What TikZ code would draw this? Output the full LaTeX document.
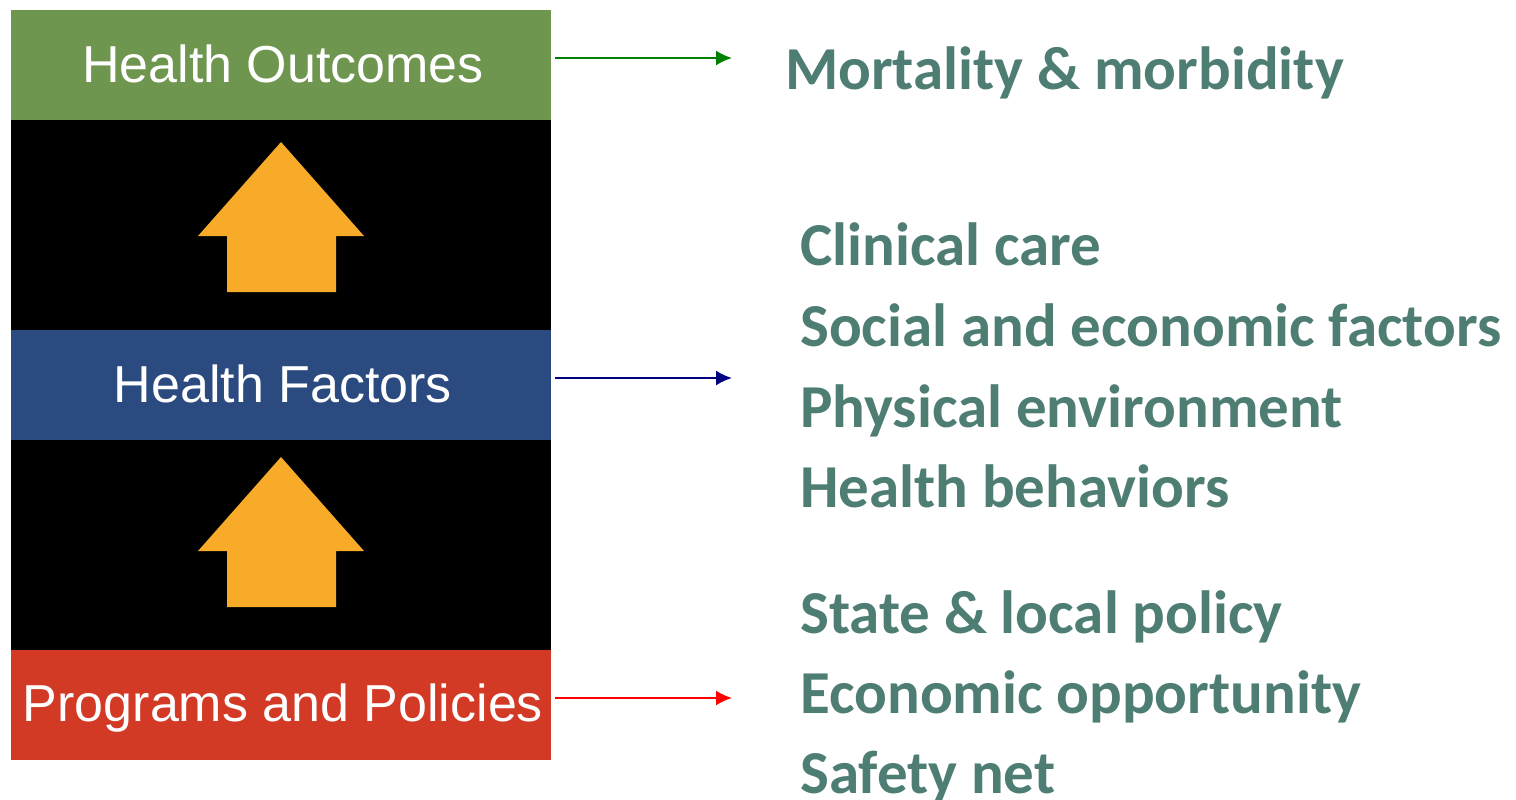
\documentclass[tikz,border=0pt]{standalone}
\usepackage{fontspec}
\setmainfont{Carlito}
\newfontfamily\boxfont{Liberation Sans}
\usetikzlibrary{arrows.meta}

\definecolor{outgreen}{HTML}{6F964F}
\definecolor{facblue}{HTML}{2B4A7F}
\definecolor{polred}{HTML}{D33A25}
\definecolor{uporange}{HTML}{F8AB29}
\definecolor{listteal}{HTML}{4E7D74}

\tikzset{
  band/.style={minimum width=540pt, minimum height=110pt, inner sep=0pt, outer sep=0pt},
  bandtext/.style={text=white, font=\boxfont\fontsize{52}{60}\selectfont, anchor=base},
  item/.style={text=listteal, font=\bfseries\fontsize{61}{70}\selectfont, anchor=base west, inner sep=0pt},
  link/.style={line width=2pt, shorten <=4pt, -{Latex[length=16pt,width=15pt]}}
}

\begin{document}
\begin{tikzpicture}[x=1pt, y=-1pt]
\useasboundingbox (0,0) rectangle (1516,800);

\fill[black] (11,120) rectangle (551,650);
\node [band, fill=outgreen] (outcomes) at (281,65) {};
\node [band, fill=facblue] (factors) at (281,385) {};
\node [band, fill=polred] (policies) at (281,705) {};

\foreach \dy in {0,315}
  \fill[uporange] (281,142+\dy) -- (364,236+\dy) -- (336,236+\dy) -- (336,292+\dy)
    -- (227,292+\dy) -- (227,236+\dy) -- (198,236+\dy) -- cycle;

\node [bandtext] (outlabel) at (283,82) {Health Outcomes};
\node [bandtext] (faclabel) at (283,402) {Health Factors};
\node [bandtext] (pollabel) at (283,721) {Programs and Policies};

\coordinate (outend) at (732,58);
\coordinate (facend) at (732,378);
\coordinate (polend) at (732,698);

\draw [link, color=green!50!black] (outcomes.east |- outend) -- (outend);
\draw [link, color=blue!50!black] (factors.east |- facend) -- (facend);
\draw [link, color=red] (policies.east |- polend) -- (polend);

\node [item] (mort) at (785,89) {Mortality \& morbidity};

\node [item] (clin) at (800,265) {Clinical care};
\node [item] (soc) at (800,346) {Social and economic factors};
\node [item] (phys) at (800,427) {Physical environment};
\node [item] (behav) at (800,507) {Health behaviors};

\node [item] (state) at (800,633) {State \& local policy};
\node [item] (econ) at (800,713) {Economic opportunity};
\node [item] (safe) at (800,793) {Safety net};
\end{tikzpicture}
\end{document}
